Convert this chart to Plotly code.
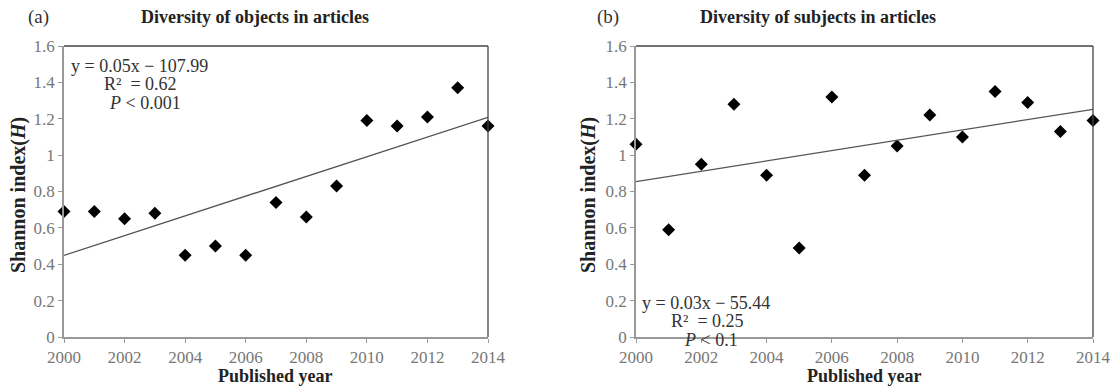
import numpy as np
import plotly.graph_objects as go

years = list(range(2000, 2015))
objects_h = [0.69, 0.69, 0.65, 0.68, 0.45, 0.50, 0.45, 0.74, 0.66, 0.83, 1.19, 1.16, 1.21, 1.37, 1.16]
subjects_h = [1.06, 0.59, 0.95, 1.28, 0.89, 0.49, 1.32, 0.89, 1.05, 1.22, 1.10, 1.35, 1.29, 1.13, 1.19]
x_ticks = list(range(2000, 2015, 2))
y_ticks = [0, 0.2, 0.4, 0.6, 0.8, 1.0, 1.2, 1.4, 1.6]
y_tick_text = ["0", "0.2", "0.4", "0.6", "0.8", "1", "1.2", "1.4", "1.6"]

W, H = 1117, 388
SERIF = "Liberation Serif, DejaVu Serif, serif"

def px(x):
    return x / W

def py(y):
    return 1 - y / H

fig = go.Figure()

for i, vals in enumerate([objects_h, subjects_h]):
    xa = "x" if i == 0 else "x2"
    ya = "y" if i == 0 else "y2"
    fig.add_trace(go.Scatter(x=years, y=vals, mode="markers", xaxis=xa, yaxis=ya,
                             marker=dict(symbol="diamond", size=10, color="black"),
                             showlegend=False, cliponaxis=False))
    slope, intercept = np.polyfit(years, vals, 1)
    xs = [years[0], years[-1]]
    fig.add_trace(go.Scatter(x=xs, y=[slope * v + intercept for v in xs], mode="lines",
                             xaxis=xa, yaxis=ya, line=dict(color="#555555", width=1.3),
                             showlegend=False))

axis_common = dict(range=[2000, 2014], tickvals=x_ticks, ticks="outside", ticklen=4,
                   tickcolor="#999999", showline=True, linecolor="#999999", linewidth=1.5,
                   showgrid=False, zeroline=False, automargin=False,
                   tickfont=dict(family=SERIF, size=17, color="#777777"))
yaxis_common = dict(range=[0, 1.6], tickvals=y_ticks, ticktext=y_tick_text, ticks="outside",
                    ticklen=4, tickcolor="#999999", showline=True, linecolor="#999999",
                    linewidth=1.5, showgrid=False, zeroline=False, automargin=False,
                    tickfont=dict(family=SERIF, size=17, color="#777777"))

dom_y = [py(337), py(46)]
fig.update_layout(
    width=W, height=H, margin=dict(l=0, r=0, t=0, b=0, autoexpand=False),
    paper_bgcolor="white", plot_bgcolor="white",
    xaxis=dict(domain=[px(64), px(488)], anchor="y", **axis_common),
    yaxis=dict(domain=dom_y, anchor="x", **yaxis_common),
    xaxis2=dict(domain=[px(636), px(1093)], anchor="y2", **axis_common),
    yaxis2=dict(domain=dom_y, anchor="x2", **yaxis_common),
)

# top/right border lines
for xr, yr in [("x domain", "y domain"), ("x2 domain", "y2 domain")]:
    fig.add_shape(type="line", xref=xr, yref=yr, x0=0, x1=1, y0=1, y1=1,
                  line=dict(color="#444444", width=1.3))
    fig.add_shape(type="line", xref=xr, yref=yr, x0=1, x1=1, y0=0, y1=1,
                  line=dict(color="#444444", width=1.3))

def ann(text, x, y, size=15, color="#333333", xanchor="left", bold=False, angle=0):
    fig.add_annotation(text=text, xref="paper", yref="paper", x=px(x), y=py(y),
                       xanchor=xanchor, yanchor="middle", showarrow=False, textangle=angle,
                       font=dict(family=SERIF, size=size, color=color))

ann("(a)", 26, 17, size=19)
ann("(b)", 595, 17, size=19)
ann("<b>Diversity of objects in articles</b>", 255, 17, size=18, color="#222222", xanchor="center")
ann("<b>Diversity of subjects in articles</b>", 818, 17, size=18, color="#222222", xanchor="center")
ann("<b>Published year</b>", 275, 376, size=18, color="#222222", xanchor="center")
ann("<b>Published year</b>", 864, 376, size=18, color="#222222", xanchor="center")
ann("<b>Shannon index(<i>H</i>)</b>", 18, 195, size=20, color="#222222", xanchor="center", angle=-90)
ann("<b>Shannon index(<i>H</i>)</b>", 588, 195, size=20, color="#222222", xanchor="center", angle=-90)

ann("y = 0.05x − 107.99", 69, 66, size=18)
ann("R²  = 0.62", 102, 84, size=18)
ann("<i>P</i> < 0.001", 107, 103, size=18)
ann("y = 0.03x − 55.44", 640, 303, size=18)
ann("R²  = 0.25", 669, 321, size=18)
ann("<i>P</i> < 0.1", 682, 340, size=18)

fig.write_html("out.html")
